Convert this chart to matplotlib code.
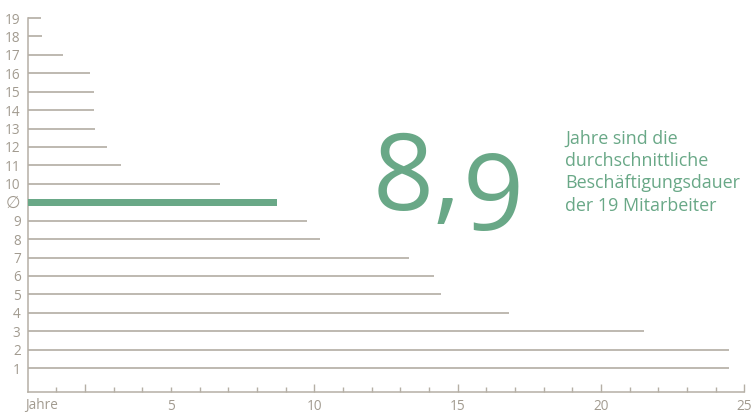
import matplotlib
matplotlib.use("Agg")
import matplotlib.pyplot as plt
from matplotlib.transforms import blended_transform_factory

# ---- data ----
row_labels = ["1", "2", "3", "4", "5", "6", "7", "8", "9", "∅",
              "10", "11", "12", "13", "14", "15", "16", "17", "18", "19"]
years = [24.45, 24.45, 21.50, 16.79, 14.43, 14.17, 13.29, 10.19, 9.76, 8.70,
         6.71, 3.26, 2.78, 2.35, 2.33, 2.33, 2.19, 1.22, 0.50, 0.47]
mean_label = "∅"
xtick_vals = list(range(1, 26))
xtick_labels = {5: "5", 10: "10", 15: "15", 20: "20", 25: "25"}
tall_ticks = [2, 10, 15, 20, 25]
big_number = ["8,", "9"]
caption_lines = ["Jahre sind die", "durchschnittliche",
                 "Beschäftigungsdauer", "der 19 Mitarbeiter"]

GREEN = "#69a887"
LINE = "#aca69b"
AXIS = "#b5afa5"
LABEL = "#a29b90"
FONT = ["Open Sans", "DejaVu Sans"]

W, H = 751, 412
fig = plt.figure(figsize=(W / 100, H / 100), dpi=100)
x0, x1 = 27.6, 744.3
ytop, ybot = 18, 392
ax = fig.add_axes([x0 / W, (H - ybot) / H, (x1 - x0) / W, (ybot - ytop) / H])

positions = list(range(1, len(row_labels) + 1))
for pos, lab, val in zip(positions, row_labels, years):
    if lab == mean_label:
        ax.barh(pos, val, height=0.38, color=GREEN, left=0, zorder=3)
    else:
        ax.hlines(pos, 0, val, color=LINE, linewidth=1.1, zorder=2, clip_on=False)

ax.set_xlim(0, 25)
ax.set_ylim(-0.30, positions[-1])

for s in ["top", "right"]:
    ax.spines[s].set_visible(False)
for s in ["left", "bottom"]:
    ax.spines[s].set_color(AXIS)
    ax.spines[s].set_linewidth(1.1)

ax.set_yticks(positions)
ax.set_yticklabels(row_labels, fontfamily=FONT, fontsize=9.8, color=LABEL)
for tl in ax.get_yticklabels():
    if tl.get_text() == mean_label:
        tl.set_fontsize(12)
ax.tick_params(axis="y", length=0, pad=5)

ax.set_xticks(xtick_vals)
ax.set_xticklabels([""] * len(xtick_vals))
ax.tick_params(axis="x", direction="in", color=AXIS, width=1.0, length=3.5)
for t, v in zip(ax.xaxis.get_major_ticks(), xtick_vals):
    t.tick1line.set_markersize(6.0 if v in tall_ticks else 3.4)

tr = blended_transform_factory(ax.transData, fig.transFigure)
for v, lab in xtick_labels.items():
    ax.text(v, (H - 406) / H, lab, transform=tr, ha="center", va="center",
            fontfamily=FONT, fontsize=9.8, color=LABEL)
fig.text(25 / W, (H - 406) / H, "Jahre", ha="left", va="center",
         fontfamily=FONT, fontsize=9.8, color=LABEL)

# big number
t1 = fig.text(373 / W, (H - 210) / H, big_number[0], ha="left", va="baseline",
              fontfamily=FONT, fontsize=77, color=GREEN)
fig.canvas.draw()
bb = t1.get_window_extent()
t2 = fig.text((bb.x1 + 0.5) / W, (H - 230) / H, big_number[1], ha="left",
              va="baseline", fontfamily=FONT, fontsize=77, color=GREEN)

baselines = [143.3, 165.5, 188.3, 210.7]
for line, b in zip(caption_lines, baselines):
    fig.text(565 / W, (H - b) / H, line, ha="left", va="baseline",
             fontfamily=FONT, fontsize=12.9, color=GREEN)

fig.savefig("out.png", dpi=100)
